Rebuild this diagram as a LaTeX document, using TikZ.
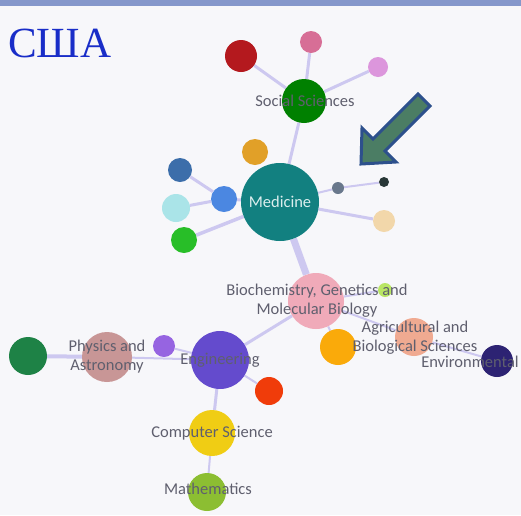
\documentclass[tikz,border=0pt]{standalone}
\usepackage{fontspec}
\setmainfont{Liberation Serif}
\newfontfamily\lblfont{Carlito}
\pgfdeclarelayer{back}
\pgfdeclarelayer{bg}
\pgfsetlayers{back,bg,main}
\definecolor{bandc}{RGB}{133,151,203}
\definecolor{titlec}{RGB}{25,45,200}
\definecolor{bgc}{RGB}{247,247,250}
\definecolor{edgec}{RGB}{205,200,240}
\definecolor{lblc}{RGB}{95,95,110}
\definecolor{arrowline}{RGB}{45,80,140}
\definecolor{arrowfill}{RGB}{75,125,100}
\definecolor{cdarkred}{RGB}{180,25,30}
\definecolor{cpinktop}{RGB}{215,110,150}
\definecolor{cviolet}{RGB}{220,150,220}
\definecolor{csoc}{RGB}{0,128,0}
\definecolor{cmed}{RGB}{18,128,128}
\definecolor{cgold}{RGB}{225,160,40}
\definecolor{cbluedark}{RGB}{60,110,170}
\definecolor{cbluemed}{RGB}{75,135,225}
\definecolor{ccyan}{RGB}{170,228,232}
\definecolor{cgreentwo}{RGB}{40,190,40}
\definecolor{cgreysmall}{RGB}{105,120,140}
\definecolor{cdarksmall}{RGB}{40,55,55}
\definecolor{cbeige}{RGB}{242,215,170}
\definecolor{cbio}{RGB}{240,170,185}
\definecolor{clightgreen}{RGB}{185,230,100}
\definecolor{corange}{RGB}{250,170,10}
\definecolor{cagri}{RGB}{240,170,145}
\definecolor{cenv}{RGB}{45,35,115}
\definecolor{cphysgreen}{RGB}{30,130,70}
\definecolor{cphys}{RGB}{200,150,150}
\definecolor{cpurple}{RGB}{150,100,225}
\definecolor{ceng}{RGB}{100,75,205}
\definecolor{cred}{RGB}{240,60,10}
\definecolor{ccs}{RGB}{240,205,20}
\definecolor{cmath}{RGB}{140,190,50}
\begin{document}
\begin{tikzpicture}[x=1pt,y=-1pt,
  ball/.style={circle,inner sep=0pt,minimum size=#1},
  lbl/.style={font=\lblfont\fontsize{16.5}{19}\selectfont,text=lblc,align=center,inner sep=0pt},
  link/.style={draw=edgec,line width=#1},
  link/.default=3pt]
\useasboundingbox (0,0) rectangle (521,515);
\begin{pgfonlayer}{back}
\fill[bgc] (0,0) rectangle (521,515);
\fill[bandc] (0,0) rectangle (521,6);
\end{pgfonlayer}
\node[anchor=base west,inner sep=0pt,text=titlec,font=\fontsize{43}{48}\selectfont] (title) at (8,57) {США};
% nodes
\node[ball=32pt,fill=cdarkred] (darkred) at (241,56) {};
\node[ball=22pt,fill=cpinktop] (pinktop) at (311,42) {};
\node[ball=20pt,fill=cviolet] (violet) at (378,67) {};
\node[ball=44pt,fill=csoc] (soc) at (304,101) {};
\node[ball=26pt,fill=cgold] (gold) at (255,152) {};
\node[ball=24pt,fill=cbluedark] (bluedark) at (180,170) {};
\node[ball=26pt,fill=cbluemed] (bluemed) at (224,199) {};
\node[ball=28pt,fill=ccyan] (cyan) at (176,208) {};
\node[ball=26pt,fill=cgreentwo] (greentwo) at (184,240) {};
\node[ball=78pt,fill=cmed] (med) at (280,202) {};
\node[ball=12pt,fill=cgreysmall] (greysmall) at (338,188) {};
\node[ball=10pt,fill=cdarksmall] (darksmall) at (384,182) {};
\node[ball=22pt,fill=cbeige] (beige) at (384,221) {};
\node[ball=56pt,fill=cbio] (bio) at (316,301) {};
\node[ball=14pt,fill=clightgreen] (lightgreen) at (385,290) {};
\node[ball=36pt,fill=corange] (orange) at (338,347) {};
\node[ball=38pt,fill=cagri] (agri) at (414,337) {};
\node[ball=32pt,fill=cenv] (env) at (497,361) {};
\node[ball=38pt,fill=cphysgreen] (physgreen) at (28,356) {};
\node[ball=50pt,fill=cphys] (phys) at (107,357) {};
\node[ball=22pt,fill=cpurple] (purple) at (164,346) {};
\node[ball=58pt,fill=ceng] (eng) at (220,360) {};
\node[ball=28pt,fill=cred] (red) at (269,391) {};
\node[ball=46pt,fill=ccs] (cs) at (212,433) {};
\node[ball=38pt,fill=cmath] (math) at (207,492) {};
% labels
\node[lbl] (lsoc) at (305,101) {Social Sciences};
\node[lbl,text={rgb,255:red,220;green,238;blue,238}] (lmed) at (280,202) {Medicine};
\node[lbl] (lbio) at (317,301) {Biochemistry, Genetics and\\Molecular Biology};
\node[lbl] (lagri) at (415,338) {Agricultural and\\Biological Sciences};
\node[lbl] (lenv) at (470,362) {Environmental};
\node[lbl] (lphys) at (107,357) {Physics and\\Astronomy};
\node[lbl] (leng) at (220,360) {Engineering};
\node[lbl] (lcs) at (212,433) {Computer Science};
\node[lbl] (lmath) at (208,489) {Mathematics};
% connectors
\begin{pgfonlayer}{bg}
\draw[link] (soc) -- (darkred);
\draw[link] (soc) -- (pinktop);
\draw[link] (soc) -- (violet);
\draw[link] (soc) -- (med);
\draw[link] (med) -- (bluemed);
\draw[link] (bluemed) -- (bluedark);
\draw[link] (bluemed) -- (cyan);
\draw[link=3.5pt] (med) -- (greentwo);
\draw[link=2pt] (med) -- (greysmall);
\draw[link=2pt] (greysmall) -- (darksmall);
\draw[link] (med) -- (beige);
\draw[link=7pt] (med) -- (bio);
\draw[link] (bio) -- (eng);
\draw[link=2pt] (bio) -- (orange);
\draw[link=2pt] (bio) -- (lightgreen);
\draw[link=2pt] (bio) -- (agri);
\draw[link=2pt] (agri) -- (env);
\draw[link=2pt] (eng) -- (purple);
\draw[link=2pt] (eng) -- (phys);
\draw[link=4pt] (phys) -- (physgreen);
\draw[link] (eng) -- (cs);
\draw[link=2pt] (eng) -- (red);
\draw[link=2pt] (cs) -- (math);
\end{pgfonlayer}
% arrow
\coordinate (atip) at (361,164);
\draw[draw=arrowline,fill=arrowfill,line width=3pt,line join=miter]
  (atip) -- (396,162) -- (385,151) -- (430,106) -- (418,94)
  -- (373,139) -- (362,128) -- cycle;
\end{tikzpicture}
\end{document}
